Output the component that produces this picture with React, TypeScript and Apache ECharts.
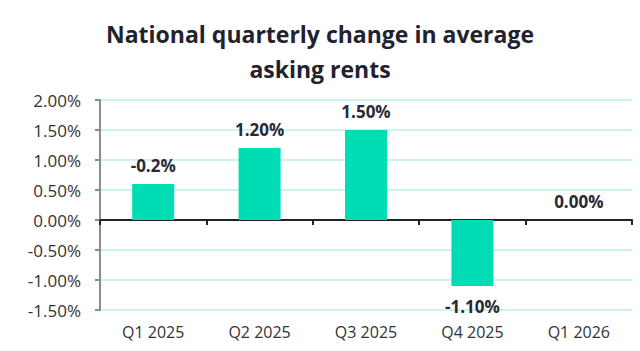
import React, { useEffect, useRef } from "react";
import * as echarts from "echarts";

const categories = ["Q1 2025", "Q2 2025", "Q3 2025", "Q4 2025", "Q1 2026"];
const values = [0.6, 1.2, 1.5, -1.1, 0];
const labels = ["-0.2%", "1.20%", "1.50%", "-1.10%", "0.00%"];
const yTicks = [-1.5, -1.0, -0.5, 0, 0.5, 1.0, 1.5, 2.0];

export default function App() {
  const ref = useRef<HTMLDivElement>(null);
  useEffect(() => {
    if (!ref.current) return;
    const chart = echarts.init(ref.current, null, { renderer: "svg" });
    const font = "'Open Sans', sans-serif";
    chart.setOption({
      animation: false,
      title: {
        text: "National quarterly change in average\nasking rents",
        left: "center",
        top: 11,
        textStyle: {
          fontFamily: font,
          fontSize: 23,
          fontWeight: "bold",
          color: "#22222e",
          lineHeight: 35,
        },
      },
      grid: { left: 100, right: 8, top: 100, bottom: 41, containLabel: false },
      xAxis: {
        type: "category",
        data: categories,
        axisLine: { onZero: true, lineStyle: { color: "#222", width: 2 } },
        axisTick: { show: true, alignWithLabel: false, length: 5, lineStyle: { color: "#222", width: 2 } },
        axisLabel: {
          fontFamily: font,
          fontSize: 16,
          color: "#333",
          margin: 14,
        },
        position: "bottom",
      },
      yAxis: {
        type: "value",
        min: yTicks[0],
        max: yTicks[yTicks.length - 1],
        interval: 0.5,
        axisLine: { show: true, lineStyle: { color: "#8c8c8c", width: 2 } },
        axisTick: { show: true, length: 5, lineStyle: { color: "#8c8c8c", width: 2 } },
        splitLine: { show: true, lineStyle: { color: "#b8f2e6", width: 1.5 } },
        axisLabel: {
          fontFamily: font,
          fontSize: 17,
          color: "#333",
          margin: 19,
          formatter: (v: number) => v.toFixed(2) + "%",
        },
      },
      series: [
        {
          type: "bar",
          data: values.map((v, i) => ({
            value: v,
            label: {
              show: true,
              position: v < 0 ? "bottom" : "top",
              distance: v < 0 ? 12 : 10,
              formatter: labels[i],
            },
          })),
          barWidth: 42,
          itemStyle: { color: "#00ddb4" },
          label: {
            fontFamily: font,
            fontSize: 17,
            fontWeight: "bold",
            color: "#2a2a36",
          },
        },
      ],
    });
    return () => chart.dispose();
  }, []);
  return <div ref={ref} style={{ position: "absolute", left: 0, top: 0, width: 640, height: 351 }} />;
}
